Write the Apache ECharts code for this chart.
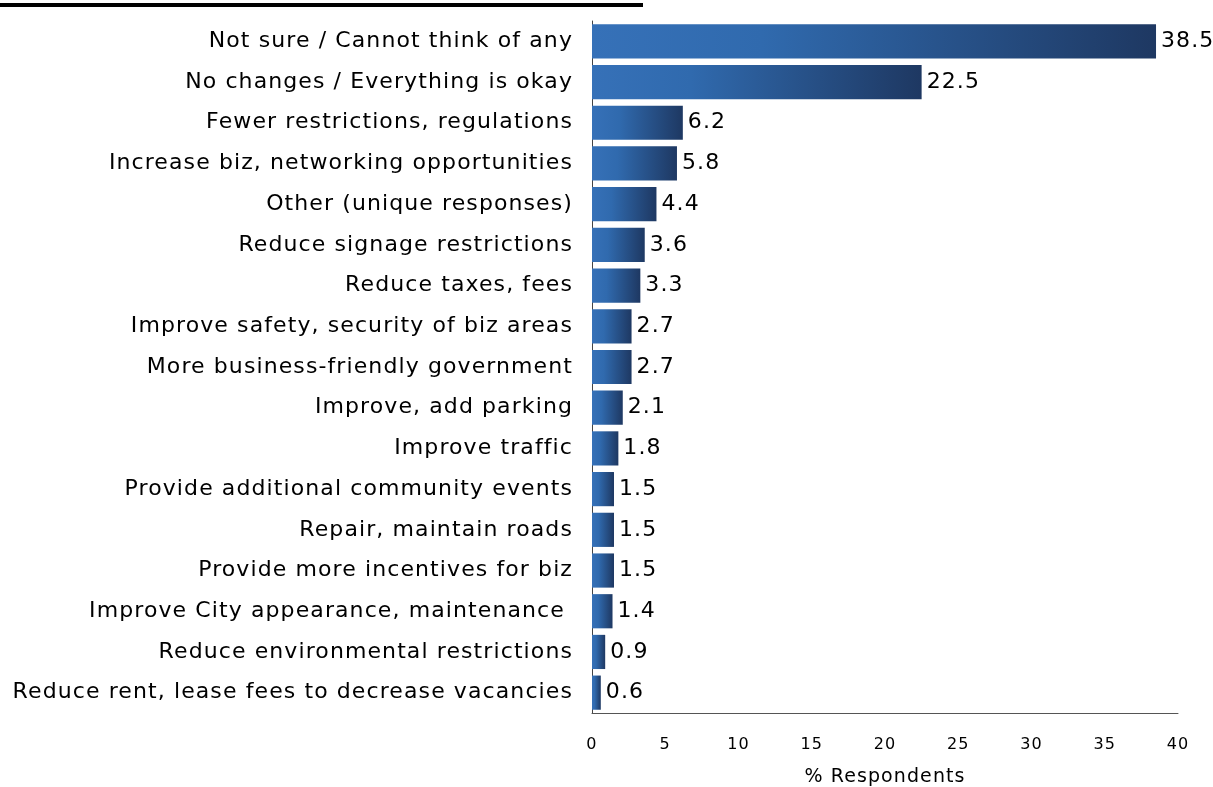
<!DOCTYPE html>
<html>
<head>
<meta charset="utf-8">
<script src="https://cdn.jsdelivr.net/npm/echarts@6/dist/echarts.min.js"></script>
<style>
  html, body { margin: 0; padding: 0; background: #ffffff; overflow: hidden; }
  #chart { width: 1213px; height: 787px; }
</style>
</head>
<body>
<div id="chart"></div>
<script>
// Survey responses: suggested improvements, share of respondents (%)
const categories = [
  'Not sure / Cannot think of any',
  'No changes / Everything is okay',
  'Fewer restrictions, regulations',
  'Increase biz, networking opportunities',
  'Other (unique responses)',
  'Reduce signage restrictions',
  'Reduce taxes, fees',
  'Improve safety, security of biz areas',
  'More business-friendly government',
  'Improve, add parking',
  'Improve traffic',
  'Provide additional community events',
  'Repair, maintain roads',
  'Provide more incentives for biz',
  'Improve City appearance, maintenance ',
  'Reduce environmental restrictions',
  'Reduce rent, lease fees to decrease vacancies'
];
const values = [38.5, 22.5, 6.2, 5.8, 4.4, 3.6, 3.3, 2.7, 2.7, 2.1, 1.8, 1.5, 1.5, 1.5, 1.4, 0.9, 0.6];
const xTicks = [0, 5, 10, 15, 20, 25, 30, 35, 40];

const FONT = 'DejaVu Sans';
const TRACKING = '1.1px';   // loose letter spacing used by all chart text
const chart = echarts.init(document.getElementById('chart'), null, { renderer: 'canvas' });

const barFill = new echarts.graphic.LinearGradient(0, 0, 1, 0, [
  { offset: 0, color: '#3671b8' },
  { offset: 0.3, color: '#306aae' },
  { offset: 1, color: '#1e3862' }
]);

chart.setOption({
  animation: false,
  backgroundColor: '#ffffff',
  graphic: [{
    type: 'rect',
    shape: { x: 0, y: 3, width: 643, height: 4 },
    style: { fill: '#000000' }
  }],
  grid: {
    left: 592, width: 586, top: 21, height: 692,
    containLabel: false,
    outerBoundsMode: 'none'
  },
  xAxis: {
    type: 'value',
    min: xTicks[0],
    max: xTicks[xTicks.length - 1],
    interval: 5,
    name: '% Respondents',
    nameLocation: 'middle',
    nameGap: 55,
    nameTextStyle: { fontFamily: FONT, fontSize: 19, color: '#000' },
    axisLine: { show: true, lineStyle: { color: '#555', width: 1 } },
    axisTick: { show: false },
    splitLine: { show: false },
    axisLabel: { fontFamily: FONT, fontSize: 16, color: '#000', margin: 24 }
  },
  yAxis: {
    type: 'category',
    inverse: true,
    data: categories,
    axisLine: { show: true, lineStyle: { color: '#444', width: 1 } },
    axisTick: { show: false },
    axisLabel: {
      fontFamily: FONT, fontSize: 22, color: '#000', margin: 19,
      padding: [4, 0, 0, 0]
    }
  },
  series: [{
    type: 'bar',
    data: values,
    barCategoryGap: '16%',
    itemStyle: { color: barFill },
    label: {
      show: true,
      position: 'right',
      distance: 5,
      fontFamily: FONT,
      fontSize: 22,
      color: '#000',
      padding: [4, 0, 0, 0],
      formatter: p => p.value.toFixed(1)
    }
  }]
});

// Apply letter spacing on the drawing context and repaint everything
const painter = chart.getZr().painter;
if (painter && painter.getLayer) {
  const layer = painter.getLayer(0);
  if (layer && layer.ctx && 'letterSpacing' in layer.ctx) {
    layer.ctx.letterSpacing = TRACKING;
    painter.refresh(true);
  }
}
</script>
</body>
</html>
